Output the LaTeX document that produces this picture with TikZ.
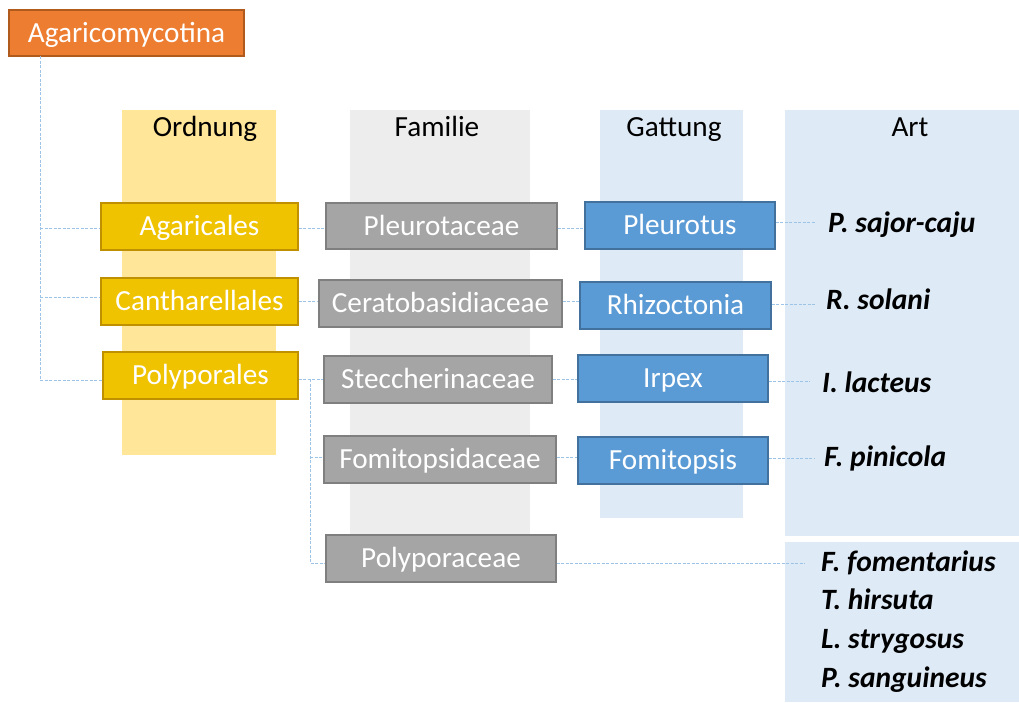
\documentclass[tikz,border=0pt]{standalone}
\usepackage{fontspec}
\setmainfont{Carlito}
\begin{document}
\begin{tikzpicture}[x=1pt,y=-1pt,
  fs/.style={font=\fontsize{29.2}{34}\selectfont, text height=23.6pt, text depth=5.3pt},
  box/.style={draw, line width=1.3pt, inner sep=0pt, text=white, fs, anchor=center},
  obox/.style={box, fill=orgF, draw=orgD},
  ybox/.style={box, fill=yelF, draw=yelD},
  gbox/.style={box, fill=gryF, draw=gryD},
  bbox/.style={box, fill=bluF, draw=bluD},
  hdr/.style={fs, text=black, anchor=center, inner sep=0pt},
  sp/.style={font=\fontsize{29.5}{34}\selectfont\bfseries\itshape, text height=23.6pt, text depth=5.3pt, text=black, anchor=west, inner sep=0pt},
  con/.style={draw=conC, line width=1pt, dash pattern=on 3pt off 1.5pt}
]
\definecolor{orgF}{HTML}{ED7D31}\definecolor{orgD}{HTML}{B05A1E}
\definecolor{yelF}{HTML}{F0C300}\definecolor{yelD}{HTML}{BF9000}\definecolor{yelB}{HTML}{FFE699}
\definecolor{gryF}{HTML}{A5A5A5}\definecolor{gryD}{HTML}{7F7F7F}\definecolor{gryB}{HTML}{EDEDED}
\definecolor{bluF}{HTML}{5B9BD5}\definecolor{bluD}{HTML}{41719C}\definecolor{bluB}{HTML}{DEEBF7}
\definecolor{conC}{HTML}{9DC3E6}
\useasboundingbox (0,0) rectangle (1019,702);
\fill[white] (0,0) rectangle (1019,702);
% background columns
\fill[yelB] (122,110) rectangle (276,455);
\fill[gryB] (350,110) rectangle (530,535);
\fill[bluB] (600,110) rectangle (743,518);
\fill[bluB] (785,110) rectangle (1019,536);
\fill[bluB] (785,542) rectangle (1019,702);
% headers
\node[hdr] (hO) at (205,127) {Ordnung};
\node[hdr] (hF) at (437,127) {Familie};
\node[hdr] (hG) at (674,127) {Gattung};
\node[hdr] (hA) at (910,127) {Art};
% root
\node[obox, minimum width=235pt, minimum height=46pt] (root) at (126.5,33) {Agaricomycotina};
% order
\node[ybox, minimum width=197pt, minimum height=47pt] (aga) at (199.5,226.5) {Agaricales};
\node[ybox, minimum width=197pt, minimum height=47pt] (can) at (199.5,301.5) {Cantharellales};
\node[ybox, minimum width=195pt, minimum height=47pt] (pol) at (200.5,375.5) {Polyporales};
% family
\node[gbox, minimum width=231pt, minimum height=46pt] (ple) at (441.5,226) {Pleurotaceae};
\node[gbox, minimum width=243pt, minimum height=47pt] (cer) at (440.5,303.5) {Ceratobasidiaceae};
\node[gbox, minimum width=228pt, minimum height=47pt] (ste) at (438,379.5) {Steccherinaceae};
\node[gbox, minimum width=232pt, minimum height=47pt] (fom) at (440,459.5) {Fomitopsidaceae};
\node[gbox, minimum width=230pt, minimum height=47pt] (ppc) at (441,558.5) {Polyporaceae};
% genus
\node[bbox, minimum width=190pt, minimum height=47pt] (pleu) at (680,225.5) {Pleurotus};
\node[bbox, minimum width=191pt, minimum height=47pt] (rhi) at (675.5,305.5) {Rhizoctonia};
\node[bbox, minimum width=190pt, minimum height=47pt] (irp) at (673,378.5) {Irpex};
\node[bbox, minimum width=190pt, minimum height=47pt] (fomi) at (673,460.5) {Fomitopsis};
% species
\node[sp] (s1) at (828,223) {P. sajor-caju};
\node[sp] (s2) at (826,300.5) {R. solani};
\node[sp] (s3) at (822,383) {I. lacteus};
\node[sp] (s4) at (824,457) {F. pinicola};
\node[sp] (s5) at (821,562.5) {F. fomentarius};
\node[sp] (s6) at (821,600.5) {T. hirsuta};
\node[sp] (s7) at (821,639.5) {L. strygosus};
\node[sp] (s8) at (821,678) {P. sanguineus};
% connectors
\coordinate (r0) at (40,56);
\path[con] (r0) -- (40,380) -- (pol.west |- 0,380);
\path[con] (40,228) -- (aga.west |- 0,228);
\path[con] (40,297) -- (can.west |- 0,297);
\path[con] (aga.east |- 0,228) -- (ple.west |- 0,228);
\path[con] (ple.east |- 0,228) -- (pleu.west |- 0,228);
\path[con] (pleu.east |- 0,222) -- (816,222);
\path[con] (can.east |- 0,301) -- (cer.west |- 0,301);
\path[con] (cer.east |- 0,301) -- (rhi.west |- 0,301);
\path[con] (rhi.east |- 0,304) -- (816,304);
\path[con] (pol.east |- 0,379) -- (ste.west |- 0,379);
\path[con] (310,379) -- (310,563) -- (ppc.west |- 0,563);
\path[con] (310,457) -- (fom.west |- 0,457);
\path[con] (ste.east |- 0,379) -- (irp.west |- 0,379);
\path[con] (irp.east |- 0,381) -- (810,381);
\path[con] (fom.east |- 0,457) -- (fomi.west |- 0,457);
\path[con] (fomi.east |- 0,458) -- (815,458);
\path[con] (ppc.east |- 0,563) -- (805,563);
\end{tikzpicture}
\end{document}
